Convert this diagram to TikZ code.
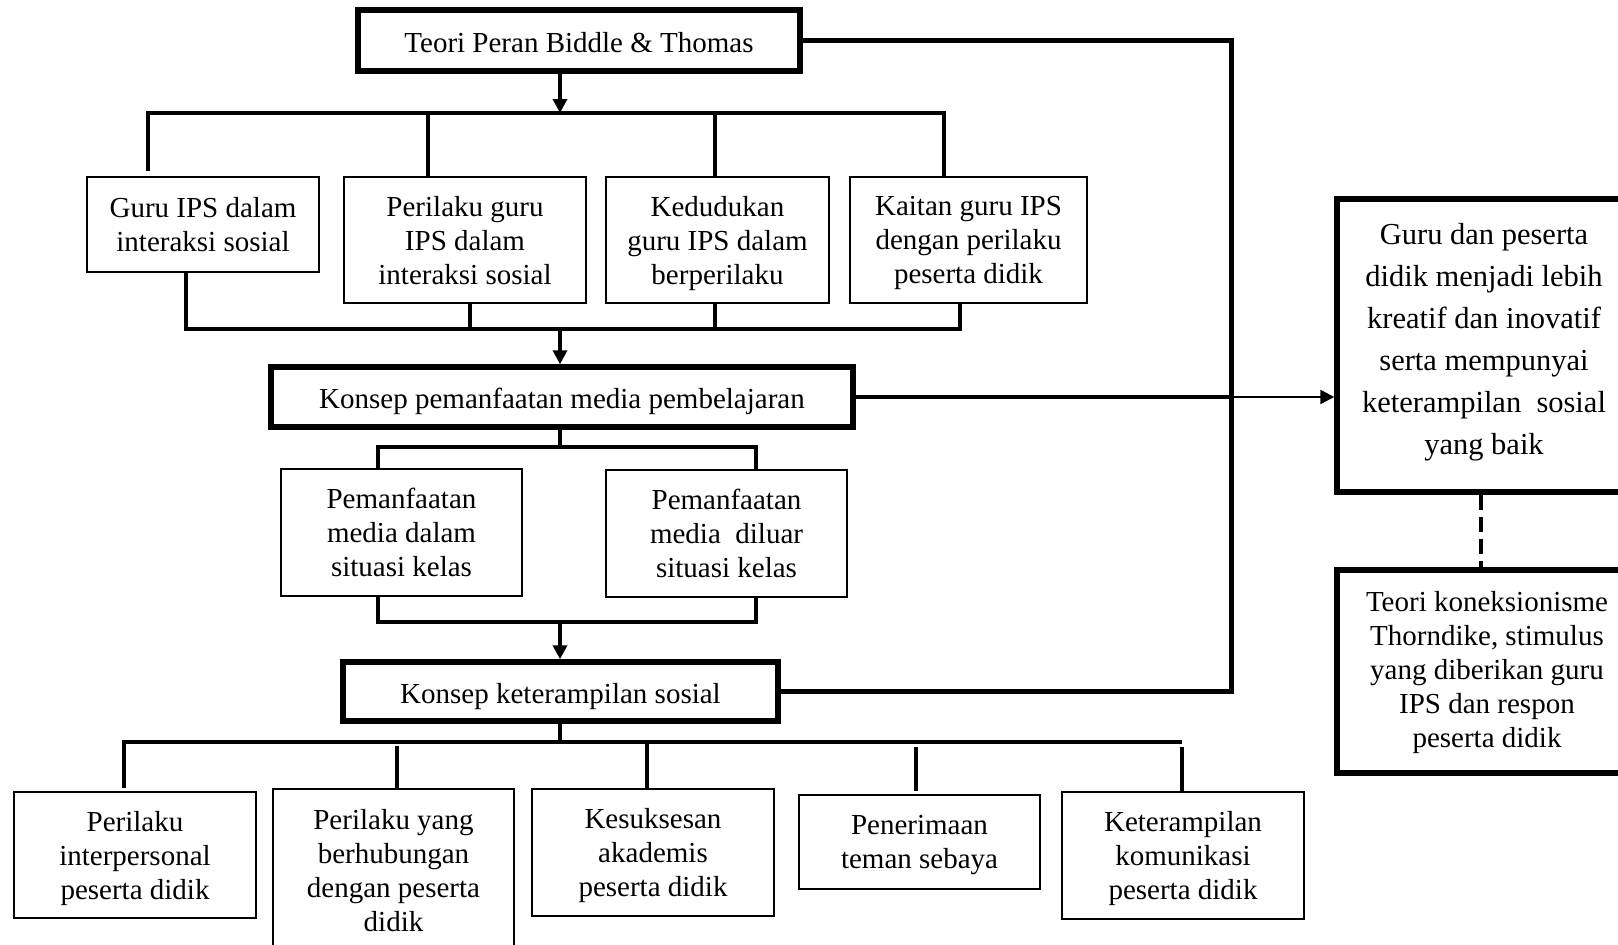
\documentclass[tikz,border=0pt]{standalone}
\usepackage{fontspec}
\setmainfont{Liberation Serif}
\usetikzlibrary{arrows.meta}

\begin{document}
\begin{tikzpicture}[x=1pt, y=-1pt,
  box/.style={draw, line width=1.6pt, align=center, inner sep=0pt, font=\fontsize{29}{34}\selectfont, text depth=0pt},
  mainbox/.style={box, line width=5.5pt},
  oneline/.style={text height=33pt, text depth=10pt},
  link/.style={line width=4pt},
  arrow/.style={-{Triangle[length=14pt, width=14pt]}, line width=4pt},
  dashlink/.style={line width=4pt, dash pattern=on 15pt off 7pt}
]
\useasboundingbox (0,0) rectangle (1618,945);
\clip (0,0) rectangle (1618,945);

\node[mainbox, oneline, minimum width=442, minimum height=61] (top) at (579,40.5) {Teori Peran Biddle \& Thomas};
\node[box, minimum width=232, minimum height=95] (b1) at (203,224.5) {Guru IPS dalam\\interaksi sosial};
\node[box, minimum width=242, minimum height=126] (b2) at (465,240) {Perilaku guru\\IPS dalam\\interaksi sosial};
\node[box, minimum width=223, minimum height=126] (b3) at (717.5,240) {Kedudukan\\guru IPS dalam\\berperilaku};
\node[box, minimum width=237, minimum height=126] (b4) at (968.5,240) {Kaitan guru IPS\\dengan perilaku\\peserta didik};
\node[mainbox, oneline, minimum width=582, minimum height=60] (pem) at (562,397) {Konsep pemanfaatan media pembelajaran};
\node[box, minimum width=241, minimum height=127] (p1) at (401.5,532.5) {Pemanfaatan\\media dalam\\situasi kelas};
\node[box, minimum width=241, minimum height=127] (p2) at (726.5,533.5) {Pemanfaatan\\media~ diluar\\situasi kelas};
\node[mainbox, oneline, minimum width=435, minimum height=59] (ket) at (560.5,691.5) {Konsep keterampilan sosial};
\node[box, minimum width=242, minimum height=126] (c1) at (135,855) {Perilaku\\interpersonal\\peserta didik};
\node[box, minimum width=241, minimum height=162] (c2) at (393.5,870) {Perilaku yang\\berhubungan\\dengan peserta\\didik};
\node[box, minimum width=242, minimum height=127] (c3) at (653,852.5) {Kesuksesan\\akademis\\peserta didik};
\node[box, minimum width=241, minimum height=94] (c4) at (919.5,842) {Penerimaan\\teman sebaya};
\node[box, minimum width=242, minimum height=127] (c5) at (1183,855.5) {Keterampilan\\komunikasi\\peserta didik};
\node[mainbox, minimum width=294, minimum height=293, font=\fontsize{30.5}{42}\selectfont, text depth=12.6pt] (r1) at (1484,345.5) {Guru dan peserta\\didik menjadi lebih\\kreatif dan inovatif\\serta mempunyai\\keterampilan~ sosial\\yang baik};
\node[mainbox, minimum width=300, minimum height=203, text depth=4pt] (r2) at (1487,671.5) {Teori koneksionisme\\Thorndike, stimulus\\yang diberikan guru\\IPS dan respon\\peserta didik};

\coordinate (t1) at (560,113);
\coordinate (t2) at (560,329);
\coordinate (t3) at (560,447);
\coordinate (t4) at (560,622);
\coordinate (t5) at (560,742);
\coordinate (rx) at (1231,400);

\draw[arrow] (top.south -| t1) -- (t1);
\draw[link] ([xshift=-55,yshift=5]b1.north) |- ([xshift=-24.5]b4.north |- t1) -- ([xshift=-24.5]b4.north);
\draw[link] ([xshift=-37]b2.north) -- ([xshift=-37]b2.north |- t1);
\draw[link] ([xshift=-2.5]b3.north) -- ([xshift=-2.5]b3.north |- t1);

\draw[link] ([xshift=-17]b1.south) |- ([xshift=-8.5]b4.south |- t2) -- ([xshift=-8.5]b4.south);
\draw[link] ([xshift=5]b2.south) -- ([xshift=5]b2.south |- t2);
\draw[link] ([xshift=-2.5]b3.south) -- ([xshift=-2.5]b3.south |- t2);
\draw[arrow] (t2) -- (t2 |- pem.north);

\draw[link] (pem.south -| t3) -- (t3);
\draw[link] ([xshift=-23.5]p1.north) |- (t3) -| ([xshift=29.5]p2.north);
\draw[link] ([xshift=-23.5]p1.south) |- (t4) -| ([xshift=29.5]p2.south);
\draw[arrow] (t4) -- (t4 |- ket.north);

\draw[link] (ket.south -| t5) -- (t5);
\draw[link] ([xshift=-11,yshift=3]c1.north) |- ([xshift=-1]c5.north |- t5);
\draw[link] ([xshift=3.5]c2.north) -- ++(0,-42);
\draw[link] ([xshift=-6]c3.north) -- ([xshift=-6]c3.north |- t5);
\draw[link] ([xshift=-3.5,yshift=3]c4.north) -- ++(0,-44);
\draw[link] ([xshift=-1]c5.north) -- ++(0,-44);

\draw[link, line width=5pt] (top.east) -| (rx) |- (ket.east);
\draw[link] (pem.east) -- (pem.east -| rx);
\draw[arrow, line width=2.5pt] (pem.east -| rx) -- (pem.east -| r1.west);
\draw[dashlink] ([xshift=-3]r1.south) -- ([xshift=-3]r1.south |- r2.north);
\end{tikzpicture}
\end{document}
